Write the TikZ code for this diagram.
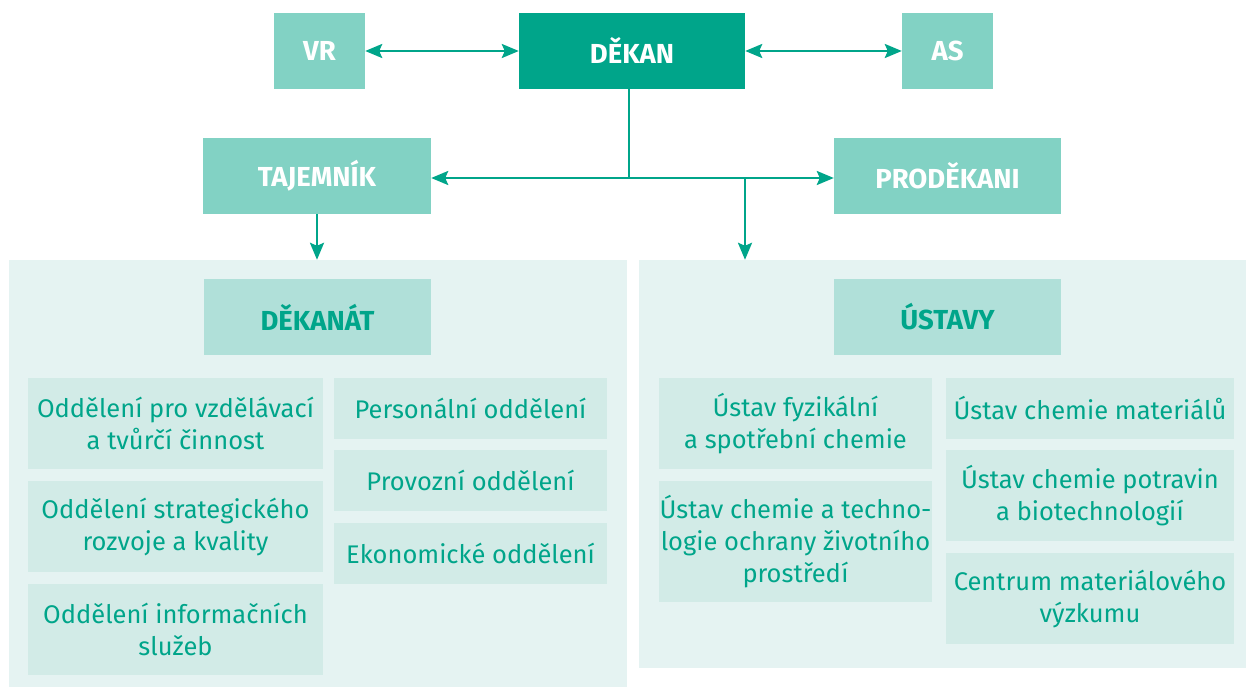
\documentclass[tikz,border=0pt]{standalone}
\usepackage{fontspec}
\setmainfont{Fira Sans}
\usetikzlibrary{arrows.meta}
\definecolor{dark}{HTML}{00A58A}
\definecolor{mid}{HTML}{82D2C4}
\definecolor{panelbg}{HTML}{E5F3F2}
\definecolor{head}{HTML}{B0E0D9}
\definecolor{sub}{HTML}{D2EBE7}
\tikzset{
  box/.style={inner sep=0pt, minimum height=76pt, font=\fontsize{27.5}{30}\selectfont\bfseries},
  topbox/.style={box, fill=dark, text=white},
  lightbox/.style={box, fill=mid, text=white},
  headbox/.style={box, fill=head, text=dark},
  subbox/.style={inner sep=0pt, fill=sub, text=dark, align=center, font=\fontsize{25.5}{32}\selectfont},
  panel/.style={fill=panelbg, inner sep=0pt},
  conn/.style={draw=dark, line width=2.6pt},
  tip/.style={-{Stealth[length=17pt,width=14pt,inset=3pt]}},
  tips/.style={{Stealth[length=17pt,width=14pt,inset=3pt]}-{Stealth[length=17pt,width=14pt,inset=3pt]}}
}
\begin{document}
\begin{tikzpicture}[x=1pt,y=-1pt]
\useasboundingbox (0,0) rectangle (1246,687);
% panels
\node[panel, minimum width=618pt, minimum height=427pt] (lpanel) at (318,473.5) {};
\node[panel, minimum width=607pt, minimum height=408pt] (rpanel) at (942.5,464) {};
% top row
\node[lightbox, minimum width=91pt] (vr) at (319.5,51) {VR};
\node[topbox, minimum width=226pt] (dekan) at (632,51) {DĚKAN};
\node[lightbox, minimum width=91pt] (as) at (947.5,51) {AS};
% second row
\node[lightbox, minimum width=228pt] (taj) at (317,176) {TAJEMNÍK};
\node[lightbox, minimum width=227pt] (prod) at (947.5,176) {PRODĚKANI};
% headers
\node[headbox, minimum width=227pt] (dekanat) at (317.5,317) {DĚKANÁT};
\node[headbox, minimum width=227pt] (ustavy) at (947.5,317) {ÚSTAVY};
% left panel boxes
\node[subbox, minimum width=295pt, minimum height=91pt] (l1) at (175.5,423.5) {Oddělení pro vzdělávací\\a tvůrčí činnost};
\node[subbox, minimum width=295pt, minimum height=91pt] (l2) at (175.5,526.5) {Oddělení strategického\\rozvoje a kvality};
\node[subbox, minimum width=295pt, minimum height=91pt] (l3) at (175.5,629.5) {Oddělení informačních\\služeb};
\node[subbox, minimum width=273pt, minimum height=61pt] (l4) at (470.5,408.5) {Personální oddělení};
\node[subbox, minimum width=273pt, minimum height=61pt] (l5) at (470.5,480.5) {Provozní oddělení};
\node[subbox, minimum width=273pt, minimum height=61pt] (l6) at (470.5,553.5) {Ekonomické oddělení};
% right panel boxes
\node[subbox, minimum width=273pt, minimum height=91pt] (r1) at (795.5,423.5) {Ústav fyzikální\\a spotřební chemie};
\node[subbox, minimum width=273pt, minimum height=121pt] (r2) at (795.5,541.5) {Ústav chemie a techno-\\logie ochrany životního\\prostředí};
\node[subbox, minimum width=288pt, minimum height=61pt] (r3) at (1090,408.5) {Ústav chemie materiálů};
\node[subbox, minimum width=288pt, minimum height=91pt] (r4) at (1090,495.5) {Ústav chemie potravin\\a biotechnologií};
\node[subbox, minimum width=288pt, minimum height=91pt] (r5) at (1090,598.5) {Centrum materiálového\\výzkumu};
% connectors
\draw[conn, tips] (vr.east) -- (dekan.west);
\draw[conn, tips] (dekan.east) -- (as.west);
\coordinate (junc) at (629,178);
\coordinate (branch) at (745,178);
\draw[conn] (dekan.south -| junc) -- (junc);
\draw[conn, tips] (taj.east |- junc) -- (prod.west |- junc);
\draw[conn, tip] (branch) -- (branch |- rpanel.north);
\draw[conn, tip] (taj.south) -- (taj.south |- lpanel.north);
\end{tikzpicture}
\end{document}
